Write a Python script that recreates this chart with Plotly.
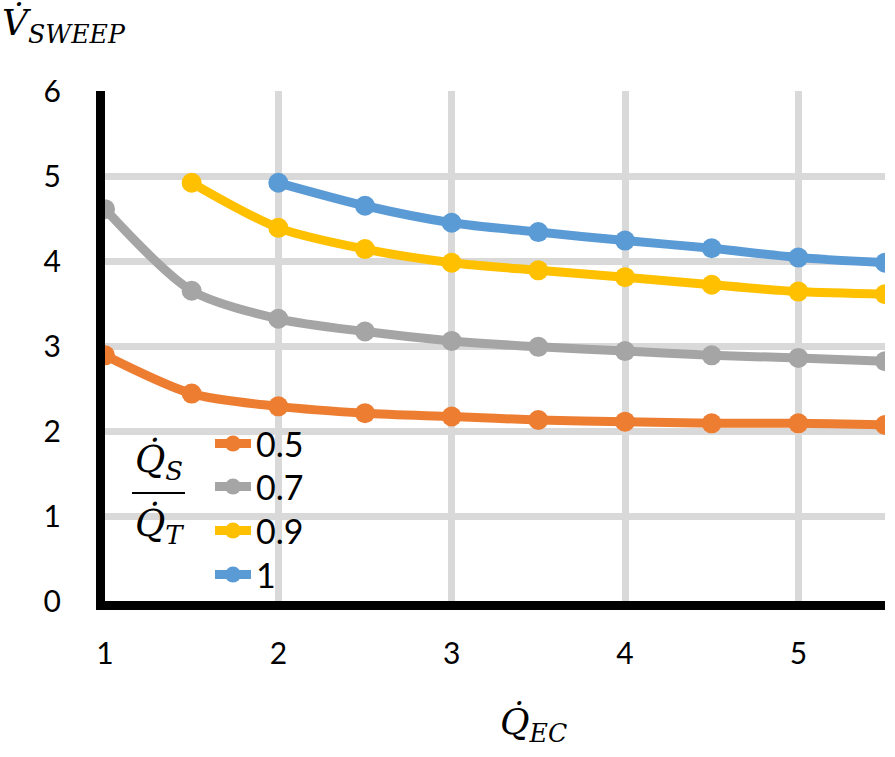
import plotly.graph_objects as go

x_05 = [1, 1.5, 2, 2.5, 3, 3.5, 4, 4.5, 5, 5.5]
y_05 = [2.89, 2.44, 2.29, 2.21, 2.17, 2.13, 2.11, 2.09, 2.09, 2.07]
x_07 = [1, 1.5, 2, 2.5, 3, 3.5, 4, 4.5, 5, 5.5]
y_07 = [4.61, 3.65, 3.32, 3.17, 3.06, 2.99, 2.94, 2.89, 2.86, 2.82]
x_09 = [1.5, 2, 2.5, 3, 3.5, 4, 4.5, 5, 5.5]
y_09 = [4.92, 4.39, 4.14, 3.98, 3.89, 3.81, 3.72, 3.64, 3.61]
x_1 = [2, 2.5, 3, 3.5, 4, 4.5, 5, 5.5]
y_1 = [4.92, 4.65, 4.45, 4.34, 4.24, 4.15, 4.04, 3.98]

series_names = ["0.5", "0.7", "0.9", "1"]
colors = ["#ED7D31", "#A5A5A5", "#FFC000", "#5B9BD5"]
x_ticks = [1, 2, 3, 4, 5]
y_ticks = [0, 1, 2, 3, 4, 5, 6]

W, H = 895, 757
L, R, T, B = 105, 10, 91, 156
pw = W - L - R
ph = H - T - B


def px(v):
    return (v - L) / pw


def py(v):
    return (H - B - v) / ph


legend_ids = ["legend", "legend2", "legend3", "legend4"]
legend_rows = [444, 487, 531, 575]

fig = go.Figure()
for xs, ys, name, c, lid in zip([x_05, x_07, x_09, x_1], [y_05, y_07, y_09, y_1],
                                series_names, colors, legend_ids):
    fig.add_trace(go.Scatter(
        x=xs, y=ys, name=name, mode="lines+markers", legend=lid,
        line=dict(color=c, width=9, shape="spline", smoothing=0.8),
        marker=dict(color=c, size=20),
    ))

serif = "DejaVu Serif"
layout_legends = {}
for lid, row in zip(legend_ids, legend_rows):
    layout_legends[lid] = dict(
        x=px(210), y=py(row), xanchor="left", yanchor="middle",
        bgcolor="rgba(0,0,0,0)", font=dict(size=34, family="Lato", color="black"),
        borderwidth=0, itemwidth=36,
    )

fig.update_layout(
    width=W, height=H,
    margin=dict(l=L, r=R, t=T, b=B),
    plot_bgcolor="white", paper_bgcolor="white",
    font=dict(family="Lato", size=30, color="black"),
    showlegend=True,
    xaxis=dict(
        range=[1, 5.5], tickvals=x_ticks, showgrid=True, gridcolor="#D9D9D9", gridwidth=7,
        showline=True, linecolor="black", linewidth=9, zeroline=False,
        ticks="", ticklabelstandoff=18, tickfont=dict(size=30),
    ),
    yaxis=dict(
        range=[0, 6], tickvals=y_ticks, showgrid=True, gridcolor="#D9D9D9", gridwidth=7,
        showline=True, linecolor="black", linewidth=9, zeroline=False,
        ticks="", ticklabelstandoff=29, tickfont=dict(size=30),
    ),
    shapes=[
        dict(type="rect", xref="paper", yref="paper", x0=px(110), x1=px(316), y0=py(597), y1=py(420),
             fillcolor="white", line=dict(width=0), layer="between"),
        dict(type="line", xref="paper", yref="paper", x0=px(132), x1=px(185), y0=py(493), y1=py(493),
             line=dict(color="black", width=2), layer="above"),
    ],
    annotations=[
        dict(text="<i>V\u0307<sub>SWEEP</sub></i>", xref="paper", yref="paper", x=px(0), y=py(0),
             xanchor="left", yanchor="top", showarrow=False, font=dict(family=serif, size=36)),
        dict(text="<i>Q\u0307<sub>EC</sub></i>", xref="paper", yref="paper", x=px(533), y=py(724),
             xanchor="center", yanchor="middle", showarrow=False, font=dict(family=serif, size=36)),
        dict(text="<i>Q\u0307<sub>S</sub></i>", xref="paper", yref="paper", x=px(159), y=py(461),
             xanchor="center", yanchor="middle", showarrow=False, font=dict(family=serif, size=37)),
        dict(text="<i>Q\u0307<sub>T</sub></i>", xref="paper", yref="paper", x=px(159), y=py(525),
             xanchor="center", yanchor="middle", showarrow=False, font=dict(family=serif, size=37)),
    ],
    **layout_legends,
)

fig.write_html("out.html", config={"displayModeBar": False},
               post_script="document.body.style.margin='0px';")
